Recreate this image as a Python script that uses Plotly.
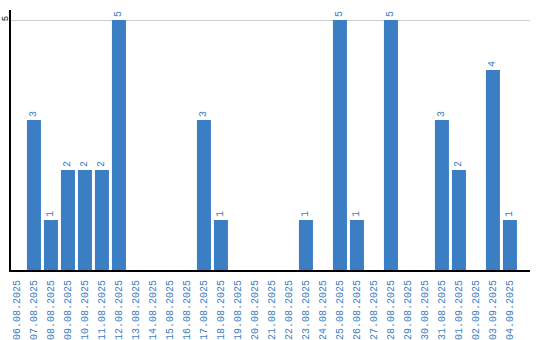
import plotly.graph_objects as go

dates = ["06.08.2025", "07.08.2025", "08.08.2025", "09.08.2025", "10.08.2025",
         "11.08.2025", "12.08.2025", "13.08.2025", "14.08.2025", "15.08.2025",
         "16.08.2025", "17.08.2025", "18.08.2025", "19.08.2025", "20.08.2025",
         "21.08.2025", "22.08.2025", "23.08.2025", "24.08.2025", "25.08.2025",
         "26.08.2025", "27.08.2025", "28.08.2025", "29.08.2025", "30.08.2025",
         "31.08.2025", "01.09.2025", "02.09.2025", "03.09.2025", "04.09.2025"]
counts = [0, 3, 1, 2, 2, 2, 5, 0, 0, 0,
          0, 3, 1, 0, 0, 0, 0, 1, 0, 5,
          1, 0, 5, 0, 0, 3, 2, 0, 4, 1]

labels = [str(v) if v else "" for v in counts]
blue = "#3b7ec3"

fig = go.Figure(go.Bar(
    x=dates, y=counts, text=labels, textposition="outside", textangle=-90,
    textfont=dict(color=blue, size=10, family="Liberation Mono"),
    marker=dict(color=blue, line=dict(width=0)),
    cliponaxis=False,
))
fig.update_layout(
    width=540, height=340,
    margin=dict(l=11, r=10, t=10, b=70),
    plot_bgcolor="white", paper_bgcolor="white",
    bargap=0.176, showlegend=False,
    font=dict(family="Liberation Mono", size=10),
)
fig.update_xaxes(
    type="category", tickangle=-90, showline=True, linecolor="black", linewidth=2,
    range=[-0.35, 30.18],
    tickfont=dict(color=blue, size=10, family="Liberation Mono"),
    showgrid=False, ticks="", ticklen=0, automargin=False, ticklabelstandoff=4,
)
fig.update_yaxes(
    range=[0, 5.2], tickvals=[5], ticktext=["5"], tickangle=-90,
    showline=True, linecolor="black", linewidth=2,
    showgrid=True, gridcolor="#cccccc", gridwidth=1, zeroline=False,
    tickfont=dict(color="black", size=9, family="Liberation Mono"),
    ticks="", ticklen=0, automargin=False, ticklabelstandoff=-3,
)
fig.write_html("out.html")
